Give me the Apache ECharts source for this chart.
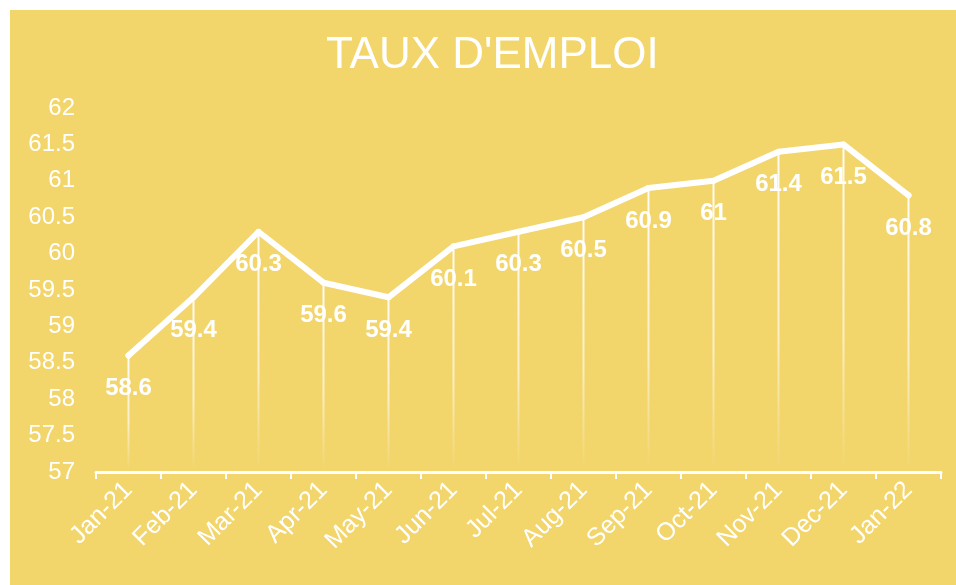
<!DOCTYPE html>
<html>
<head>
<meta charset="utf-8">
<script src="https://cdn.jsdelivr.net/npm/echarts@6/dist/echarts.min.js"></script>
<style>
html,body{margin:0;padding:0;background:#fff;width:956px;height:585px;overflow:hidden;}
#chart{position:absolute;left:10px;top:10px;width:946px;height:575px;background:#F2D56B;}
</style>
</head>
<body>
<div id="chart"></div>
<script>
const titleText = "TAUX D'EMPLOI";
const categories = ['Jan-21','Feb-21','Mar-21','Apr-21','May-21','Jun-21','Jul-21','Aug-21','Sep-21','Oct-21','Nov-21','Dec-21','Jan-22'];
const values = [58.6, 59.4, 60.3, 59.6, 59.4, 60.1, 60.3, 60.5, 60.9, 61.0, 61.4, 61.5, 60.8];
const yMin = 57, yMax = 62, yStep = 0.5;

const chart = echarts.init(document.getElementById('chart'), null, {renderer:'canvas'});
const font = 'Liberation Sans, Arial, sans-serif';
chart.setOption({
  backgroundColor: '#F2D56B',
  animation: false,
  title: {
    text: titleText,
    left: 311,
    top: 19,
    textStyle: {color:'#fff', fontSize: 44, fontWeight: 'normal', fontFamily: font}
  },
  grid: {left: 86, right: 15, top: 98, bottom: 113, containLabel: false},
  xAxis: {
    type: 'category',
    data: categories,
    boundaryGap: true,
    axisLine: {show: true, lineStyle: {color: '#fff', width: 3}},
    axisTick: {show: true, alignWithLabel: false, length: 7, lineStyle: {color: '#fff', width: 2}},
    axisLabel: {rotate: 45, color: '#fff', fontSize: 25, fontFamily: font, margin: 14, interval: 0},
    splitLine: {show: false}
  },
  yAxis: {
    type: 'value',
    min: yMin, max: yMax, interval: yStep,
    axisLine: {show: false},
    axisTick: {show: false},
    splitLine: {show: false},
    axisLabel: {color: '#fff', fontSize: 24, fontFamily: font, margin: 21}
  },
  series: [
    {
      type: 'custom',
      data: values.map((v, i) => [i, v]),
      z: 1,
      renderItem: function (params, api) {
        const x = api.value(0), y = api.value(1);
        const top = api.coord([x, y]);
        const bot = api.coord([x, yMin]);
        return {
          type: 'line',
          shape: {x1: top[0], y1: top[1], x2: bot[0], y2: bot[1] - 2},
          style: {
            lineWidth: 2,
            stroke: new echarts.graphic.LinearGradient(0, 0, 0, 1, [
              {offset: 0, color: 'rgba(255,255,255,0.95)'},
              {offset: 0.6, color: 'rgba(255,255,255,0.6)'},
              {offset: 1, color: 'rgba(255,255,255,0)'}
            ])
          }
        };
      }
    },
    {
      type: 'line',
      data: values,
      z: 3,
      symbol: 'circle',
      symbolSize: 6,
      showSymbol: true,
      itemStyle: {color: '#fff'},
      lineStyle: {color: '#fff', width: 6, cap: 'round', join: 'round'},
      label: {
        show: true,
        position: 'bottom',
        distance: 18,
        color: '#fff',
        fontSize: 24,
        fontWeight: 'bold',
        fontFamily: font
      }
    }
  ]
});
</script>
</body>
</html>
